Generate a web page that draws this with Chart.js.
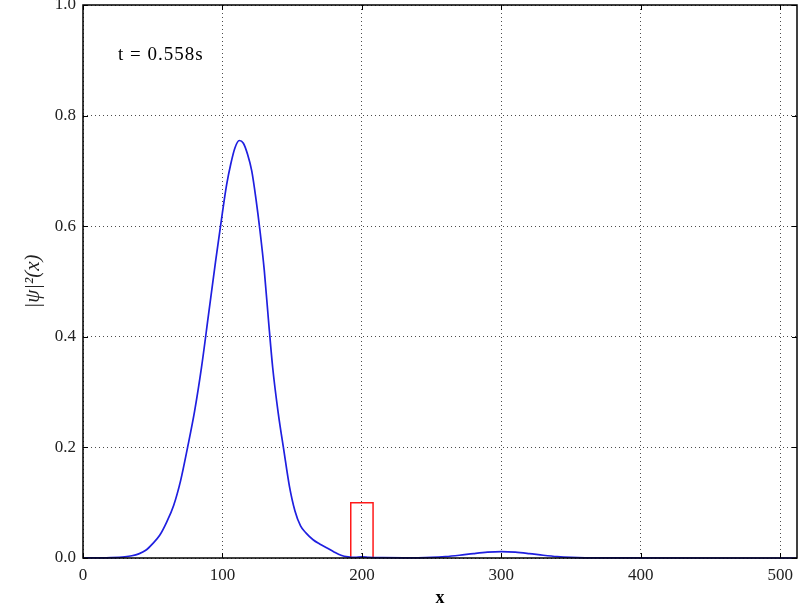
<!DOCTYPE html>
<html>
<head>
<meta charset="utf-8">
<script src="https://cdn.jsdelivr.net/npm/chart.js@4"></script>
<style>
  html, body { margin: 0; padding: 0; background: #fff; }
  #wrap { width: 810px; height: 614px; }
</style>
</head>
<body>
<div id="wrap"><canvas id="chart" width="810" height="614"></canvas></div>
<script>
// probability density |psi|^2
const xs = [0, 10, 20, 30, 35, 40, 45, 50, 55, 60, 65, 70, 75, 80, 85, 90, 95, 100, 103, 106, 109, 112, 115, 118, 121, 124, 127, 130, 133, 136, 140, 144, 148, 152, 156, 160, 165, 170, 175, 180, 185, 190, 195, 200, 205, 215, 230, 240, 250, 260, 270, 280, 290, 300, 310, 320, 330, 340, 350, 360, 380, 512];
const psi2 = [0, 0.0002, 0.0007, 0.0022, 0.004, 0.0075, 0.014, 0.026, 0.041, 0.065, 0.095, 0.14, 0.2, 0.265, 0.345, 0.44, 0.535, 0.625, 0.675, 0.713, 0.742, 0.755, 0.75, 0.73, 0.7, 0.65, 0.59, 0.52, 0.43, 0.345, 0.262, 0.195, 0.13, 0.085, 0.058, 0.045, 0.033, 0.025, 0.018, 0.011, 0.005, 0.002, 0.001, 0.002, 0.001, 0.0005, 0.0003, 0.0004, 0.001, 0.0025, 0.005, 0.008, 0.0105, 0.0115, 0.0105, 0.008, 0.005, 0.0025, 0.001, 0.0003, 0.0001, 0];

// potential barrier outline
const barrierX = [192, 192, 208, 208];
const barrierY = [0, 0.1, 0.1, 0];

const xTicks = [0, 100, 200, 300, 400, 500];
const yTicks = [0, 0.2, 0.4, 0.6, 0.8, 1.0];
const timeLabel = 't = 0.558s';

const serif = '"Liberation Serif", "DejaVu Serif", serif';

const toPoints = (a, b) => a.map((v, i) => ({ x: v, y: b[i] }));

// box round the plot, inward ticks on all sides and the time label
const framePlugin = {
    id: 'frame',
    afterDraw(chart) {
        const { ctx, chartArea: a, scales } = chart;
        ctx.save();
        ctx.strokeStyle = '#000';
        ctx.lineWidth = 1;
        xTicks.forEach(v => {
            const px = Math.round(scales.x.getPixelForValue(v)) + 0.5;
            ctx.beginPath();
            ctx.moveTo(px, a.bottom); ctx.lineTo(px, a.bottom - 5);
            ctx.moveTo(px, a.top); ctx.lineTo(px, a.top + 5);
            ctx.stroke();
        });
        yTicks.forEach(v => {
            const py = Math.round(scales.y.getPixelForValue(v)) + 0.5;
            ctx.beginPath();
            ctx.moveTo(a.left, py); ctx.lineTo(a.left + 5, py);
            ctx.moveTo(a.right, py); ctx.lineTo(a.right - 5, py);
            ctx.stroke();
        });
        ctx.lineWidth = 1.5;
        ctx.strokeRect(a.left, a.top, a.right - a.left, a.bottom - a.top);

        ctx.fillStyle = '#000';
        ctx.font = '19px ' + serif;
        ctx.letterSpacing = '1px';
        ctx.textBaseline = 'middle';
        ctx.fillText(timeLabel, a.left + 35, a.top + 50);
        ctx.restore();
    }
};

const grid = {
    color: 'rgba(0,0,0,0.7)',
    lineWidth: 1,
    drawTicks: false
};

new Chart(document.getElementById('chart'), {
    type: 'scatter',
    data: {
        datasets: [
            {
                data: toPoints(xs, psi2),
                showLine: true,
                borderColor: '#1f1fe0',
                borderWidth: 1.7,
                pointRadius: 0,
                cubicInterpolationMode: 'monotone',
                clip: 5
            },
            {
                data: toPoints(barrierX, barrierY),
                showLine: true,
                borderColor: '#ff1a1a',
                borderWidth: 1.5,
                pointRadius: 0,
                tension: 0,
                clip: 5
            }
        ]
    },
    plugins: [framePlugin],
    options: {
        responsive: false,
        animation: false,
        layout: { padding: { top: 5, right: 13, left: 0, bottom: 0 } },
        plugins: {
            legend: { display: false },
            tooltip: { enabled: false }
        },
        scales: {
            x: {
                type: 'linear',
                min: 0,
                max: 512,
                afterBuildTicks: s => { s.ticks = xTicks.map(v => ({ value: v })); },
                afterFit: s => { s.height = 56; s.paddingLeft = 0; s.paddingRight = 0; },
                grid: grid,
                border: { display: false, dash: [1, 3] },
                ticks: {
                    padding: 7,
                    color: '#222',
                    font: { family: serif, size: 17 },
                    maxRotation: 0
                },
                title: {
                    display: true,
                    text: 'x',
                    color: '#000',
                    font: { family: serif, size: 18, weight: 'bold' },
                    padding: { top: 0, bottom: 5 }
                }
            },
            y: {
                type: 'linear',
                min: 0,
                max: 1,
                afterBuildTicks: s => { s.ticks = yTicks.map(v => ({ value: v })); },
                afterFit: s => { s.width = 83; s.paddingTop = 0; s.paddingBottom = 0; },
                grid: grid,
                border: { display: false, dash: [1, 3] },
                ticks: {
                    padding: 7,
                    color: '#222',
                    font: { family: serif, size: 17 },
                    callback: v => v.toFixed(1)
                },
                title: {
                    display: true,
                    text: '|ψ|²(x)',
                    color: '#222',
                    font: { family: serif, size: 21, style: 'italic' },
                    padding: { top: 21, bottom: 0 }
                }
            }
        }
    }
});
</script>
</body>
</html>
